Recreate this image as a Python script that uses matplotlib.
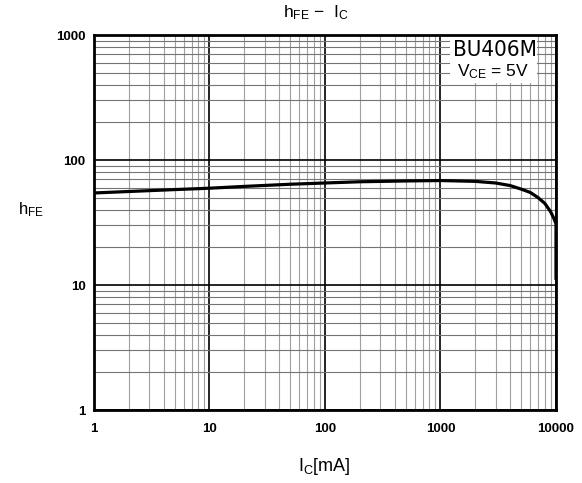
import matplotlib
matplotlib.use('Agg')
import matplotlib.pyplot as plt
from matplotlib.patches import Rectangle
from matplotlib import font_manager
from matplotlib.ticker import LogLocator, NullFormatter, FixedLocator, FixedFormatter

plt.rcParams['font.family'] = ['Liberation Sans', 'DejaVu Sans']
plt.rcParams['mathtext.fontset'] = 'custom'
plt.rcParams['mathtext.rm'] = 'Liberation Sans'
plt.rcParams['mathtext.it'] = 'Liberation Sans'
plt.rcParams['mathtext.bf'] = 'Liberation Sans:bold'

# data
ic_ma = [1, 2, 5, 10, 20, 50, 100, 200, 500, 1000, 2000, 3000, 4000,
         5000, 6000, 7000, 8000, 9000, 9600, 10000, 10000]
hfe = [54.5, 56, 58, 59.5, 61.5, 64, 65.5, 67, 68, 68.5, 67.5, 65.5, 62.5,
       58.5, 55, 50, 45, 38.5, 34, 31, 11]

x_ticks = [1, 10, 100, 1000, 10000]
x_labels = ['1', '10', '100', '1000', '10000']
y_ticks = [1, 10, 100, 1000]
y_labels = ['1', '10', '100', '1000']

names = {f.name for f in font_manager.fontManager.ttflist}
narrow = 'Liberation Sans Narrow' if 'Liberation Sans Narrow' in names else 'DejaVu Sans'

fig = plt.figure(figsize=(5.82, 4.83), dpi=100)
ax = fig.add_axes([0.1615, 0.1511, 0.7938, 0.7764])

ax.set_xscale('log')
ax.set_yscale('log')
ax.set_xlim(1, 10000)
ax.set_ylim(1, 1000)

ax.xaxis.set_major_locator(FixedLocator(x_ticks))
ax.xaxis.set_major_formatter(FixedFormatter(x_labels))
ax.yaxis.set_major_locator(FixedLocator(y_ticks))
ax.yaxis.set_major_formatter(FixedFormatter(y_labels))
ax.xaxis.set_minor_locator(LogLocator(base=10, subs=range(2, 10), numticks=20))
ax.yaxis.set_minor_locator(LogLocator(base=10, subs=range(2, 10), numticks=20))
ax.xaxis.set_minor_formatter(NullFormatter())
ax.yaxis.set_minor_formatter(NullFormatter())

ax.grid(which='major', color='black', linewidth=1.2)
ax.xaxis.grid(which='minor', color='#a0a0a0', linewidth=0.8)
ax.yaxis.grid(which='minor', color='#747474', linewidth=0.8)
ax.set_axisbelow(True)

ax.tick_params(which='both', length=0)
ax.tick_params(axis='x', pad=9, labelsize=9.5)
ax.tick_params(axis='y', pad=6, labelsize=9.5)
for lab in ax.get_xticklabels() + ax.get_yticklabels():
    lab.set_fontweight('bold')

for sp in ax.spines.values():
    sp.set_linewidth(2)
    sp.set_zorder(5)

ax.plot(ic_ma, hfe, color='black', linewidth=2.3, solid_capstyle='butt', zorder=4)

# white label box in upper right
ax.add_patch(Rectangle((0.77, 0.872), 0.189, 0.128, transform=ax.transAxes,
                       facecolor='white', edgecolor='none', zorder=3))
ax.text(0.869, 0.96, 'BU406M', transform=ax.transAxes, ha='center', va='center',
        fontsize=16, family=narrow, stretch='condensed', zorder=4)
ax.text(0.864, 0.901, r'V$_\mathregular{CE}$ = 5V', transform=ax.transAxes,
        ha='center', va='center', fontsize=12.5, zorder=4)

fig.text(0.543, 0.973, r'h$_\mathregular{FE}$ $-$  I$_\mathregular{C}$',
         ha='center', va='center', fontsize=12.5)
fig.text(0.053, 0.565, r'h$_\mathregular{FE}$', ha='center', va='center', fontsize=12)
fig.text(0.557, 0.035, r'I$_\mathregular{C}$[mA]', ha='center', va='center', fontsize=13)

fig.savefig('out.png', dpi=100, facecolor='white')
